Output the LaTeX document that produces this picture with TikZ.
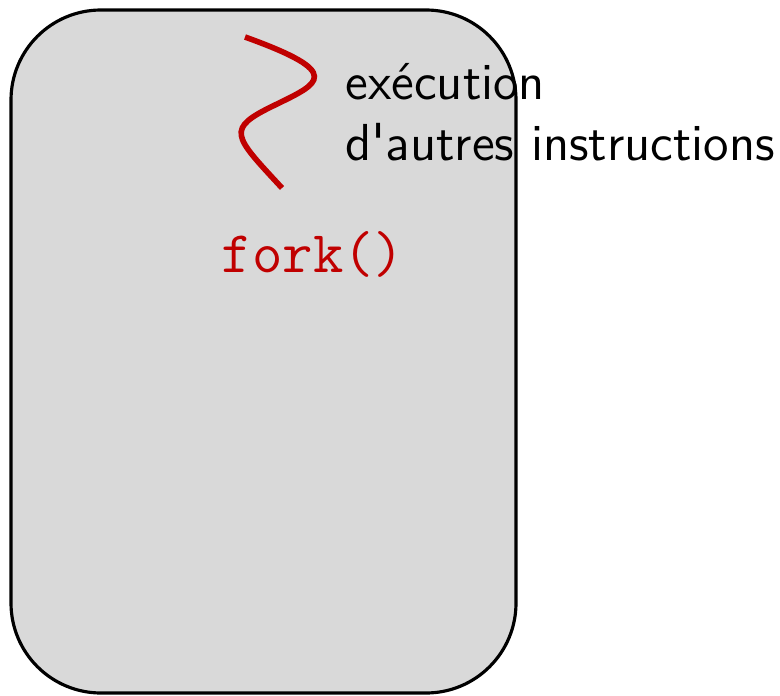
\documentclass[tikz,border=0pt]{standalone}
\usepackage{fontspec}
\usetikzlibrary{positioning}
\definecolor{cgrey}{HTML}{D9D9D9}
\definecolor{cred}{HTML}{C00000}
\tikzset{
  every picture/.style={font=\sffamily\fontsize{14.8}{17.1}\selectfont},
  process/.style={draw=black, fill=cgrey, line width=0.9pt, rounded corners=0.9cm},
  thread/.style={draw=cred, line width=1.6pt},
  call/.style={font=\ttfamily\fontsize{16.8}{19}\selectfont, text=cred},
  note/.style={align=left, inner sep=0pt},
}

\begin{document}
\begin{tikzpicture}
  \useasboundingbox (0,0) rectangle (7.8,6.95);
  % the process body
  \draw[process] (0.11,0.02) rectangle (5.16,6.85);
  % its running thread
  \draw[thread] (2.45,6.58) .. controls (3.45,6.22) and (3.2,6.12) .. (2.75,5.9)
    .. controls (2.25,5.66) and (2.33,5.6) .. (2.82,5.07);
  \node[note, anchor=base west] (exec) at (3.45,5.35) {exécution\\d\textquotesingle autres instructions};
  \node[call, anchor=base] (fork) at (3.13,4.23) {fork()};
\end{tikzpicture}
\end{document}
